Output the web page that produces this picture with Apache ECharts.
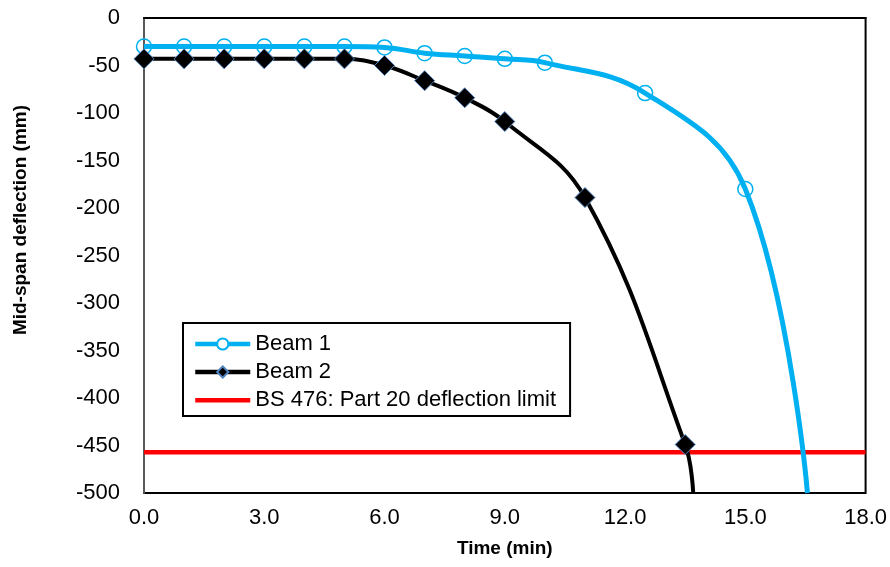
<!DOCTYPE html>
<html>
<head>
<meta charset="utf-8">
<script src="https://cdn.jsdelivr.net/npm/echarts@6/dist/echarts.min.js"></script>
<style>html,body{margin:0;padding:0;background:#fff}#c{width:890px;height:567px}</style>
</head>
<body>
<div id="c"></div>
<script>
// Data
const beam1X = [0, 1, 2, 3, 4, 5, 6, 7, 8, 9, 10, 12.5, 15, 16.55];
const beam1Y = [-30, -30, -30, -30, -30, -30, -31, -37, -40, -43, -47, -79, -180, -500];
const beam1Marked = [1,1,1,1,1,1,1,1,1,1,1,1,1,0];
const beam2X = [0, 1, 2, 3, 4, 5, 6, 7, 8, 9, 11, 13.5, 13.7];
const beam2Y = [-43, -43, -43, -43, -43, -43, -50, -66, -84, -109, -189, -449, -500];
const beam2Marked = [1,1,1,1,1,1,1,1,1,1,1,1,0];
const limitX = [0, 18];
const limitY = [-457, -457];
const seriesNames = ['Beam 1', 'Beam 2', 'BS 476: Part 20 deflection limit'];
const xTitle = 'Time (min)';
const yTitle = 'Mid-span deflection (mm)';

function pts(xs, ys, marked) {
  return xs.map((x, i) => {
    const item = { value: [x, ys[i]] };
    if (marked && !marked[i]) item.symbol = 'none';
    return item;
  });
}

const FONT = '"Liberation Sans", Arial, sans-serif';
const chart = echarts.init(document.getElementById('c'), null, { renderer: 'canvas' });
chart.setOption({
  animation: false,
  backgroundColor: '#fff',
  textStyle: { fontFamily: FONT },
  grid: { left: 144, right: 24, top: 18, bottom: 74, show: true, borderColor: '#000', borderWidth: 2 },
  graphic: [{
    type: 'text', left: 11, top: 105, rotation: Math.PI / 2,
    style: { text: yTitle, font: 'bold 19px "Liberation Sans", Arial, sans-serif', fill: '#000' }
  }],
  legend: {
    orient: 'vertical',
    left: 183, top: 323,
    padding: [10, 14, 5, 10],
    itemWidth: 55, itemHeight: 14, itemGap: 6,
    backgroundColor: '#fff',
    borderColor: '#000', borderWidth: 2, borderRadius: 0,
    textStyle: { fontFamily: FONT, fontSize: 22, color: '#000' },
    lineStyle: { width: 4.5 },
    data: [
      { name: seriesNames[0], itemStyle: { color: '#fff' } },
      { name: seriesNames[1] },
      { name: seriesNames[2], icon: 'path://M0,0 M0,5 L55,5 L55,9.5 L0,9.5 Z M55,14' }
    ]
  },
  xAxis: {
    type: 'value', min: 0, max: 18, interval: 3,
    name: xTitle, nameLocation: 'middle', nameGap: 46,
    nameTextStyle: { fontFamily: FONT, fontSize: 19, fontWeight: 'bold', color: '#000' },
    axisLine: { show: true, lineStyle: { color: '#000', width: 2 } },
    axisTick: { show: false },
    splitLine: { show: false },
    axisLabel: { fontFamily: FONT, fontSize: 22, color: '#000', margin: 14, formatter: v => v.toFixed(1) }
  },
  yAxis: {
    type: 'value', min: -500, max: 0, interval: 50,
    axisLine: { show: true, lineStyle: { color: '#595959', width: 2 } },
    axisTick: { show: false },
    splitLine: { show: false },
    axisLabel: { fontFamily: FONT, fontSize: 22, color: '#000', margin: 24 }
  },
  series: [
    {
      name: seriesNames[0], type: 'line', smooth: 0.4,
      data: pts(beam1X, beam1Y, beam1Marked),
      symbol: 'circle', symbolSize: 15, showAllSymbol: true,
      lineStyle: { color: '#00B0F0', width: 5 },
      itemStyle: { color: 'rgba(255,255,255,0)', borderColor: '#00B0F0', borderWidth: 1.5 },
      z: 3
    },
    {
      name: seriesNames[1], type: 'line', smooth: 0.4,
      data: pts(beam2X, beam2Y, beam2Marked),
      symbol: 'diamond', symbolSize: 20, showAllSymbol: true,
      lineStyle: { color: '#000', width: 4 },
      itemStyle: { color: '#000', borderColor: '#4F81BD', borderWidth: 1 },
      z: 4
    },
    {
      name: seriesNames[2], type: 'line',
      data: pts(limitX, limitY),
      symbol: 'none',
      lineStyle: { color: '#FF0000', width: 4.5 },
      itemStyle: { color: '#FF0000' },
      z: 2
    }
  ]
});
</script>
</body>
</html>
